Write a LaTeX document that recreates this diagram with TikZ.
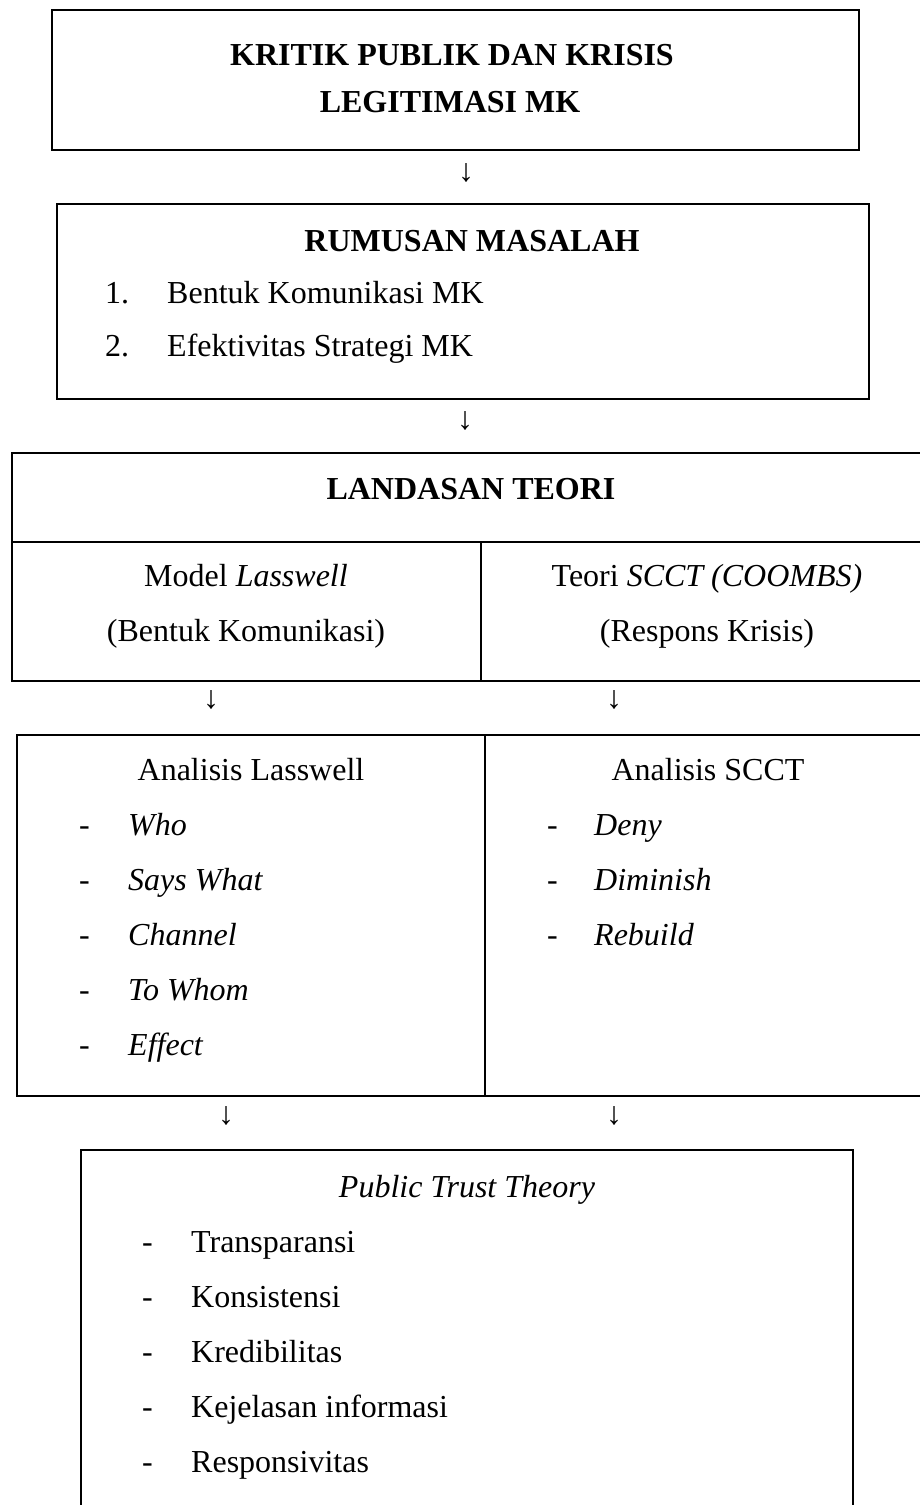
\documentclass[tikz,border=0pt]{standalone}
\usepackage{fontspec}
\setmainfont{Liberation Serif}
\newcommand\fsz{\fontsize{32}{38}\selectfont}
\tikzset{
  boxline/.style={line width=2.8pt, line cap=rect},
  midline/.style={line width=2.6pt},
  ctxt/.style={anchor=base, inner sep=0pt, font=\fsz},
  btxt/.style={anchor=base, inner sep=0pt, font=\fsz\bfseries},
  ltxt/.style={anchor=base west, inner sep=0pt, font=\fsz},
  itxt/.style={anchor=base west, inner sep=0pt, font=\fsz\itshape},
  arrowglyph/.style={anchor=center, inner sep=0pt, font=\fsz},
}
\begin{document}
\begin{tikzpicture}[x=1pt,y=-1pt]
\useasboundingbox (0,0) rectangle (920,1505);
\clip (0,0) rectangle (920,1505);
\fill[white] (0,0) rectangle (920,1505);

% Box 1
\draw[boxline] (52,10) rectangle (859,150);
\node[btxt] (k1) at (452,65) {KRITIK PUBLIK DAN KRISIS};
\node[btxt] (k2) at (450,112) {LEGITIMASI MK};
\node[arrowglyph] (a1) at (466,173) {↓};

% Box 2
\draw[boxline] (57,204) rectangle (869,399);
\node[btxt] (r0) at (472,251) {RUMUSAN MASALAH};
\node[ltxt] (r1n) at (105,303) {1.};
\node[ltxt] (r1) at (167,303) {Bentuk Komunikasi MK};
\node[ltxt] (r2n) at (105,356) {2.};
\node[ltxt] (r2) at (167,356) {Efektivitas Strategi MK};
\node[arrowglyph] (a2) at (465,421) {↓};

% Box 3
\draw[boxline] (12,453) rectangle (933,681);
\draw[midline] (12,542) -- (933,542);
\draw[midline] (481,542) -- (481,681);
\node[btxt] (l0) at (471,499) {LANDASAN TEORI};
\node[ctxt] (l1a) at (246,586) {Model \textit{Lasswell}};
\node[ctxt] (l1b) at (246,641) {(Bentuk Komunikasi)};
\node[ctxt] (l2a) at (707,586) {Teori \textit{SCCT (COOMBS)}};
\node[ctxt] (l2b) at (707,641) {(Respons Krisis)};
\node[arrowglyph] (a3) at (211,700) {↓};
\node[arrowglyph] (a4) at (614,700) {↓};

% Box 4
\draw[boxline] (17,735) rectangle (931,1096);
\draw[midline] (485,735) -- (485,1096);
\node[ctxt] (la0) at (251,780) {Analisis Lasswell};
\node[ltxt] (lad1) at (79,835) {-};
\node[itxt] (la1) at (128,835) {Who};
\node[ltxt] (lad2) at (79,890) {-};
\node[itxt] (la2) at (128,890) {Says What};
\node[ltxt] (lad3) at (79,945) {-};
\node[itxt] (la3) at (128,945) {Channel};
\node[ltxt] (lad4) at (79,1000) {-};
\node[itxt] (la4) at (128,1000) {To Whom};
\node[ltxt] (lad5) at (79,1055) {-};
\node[itxt] (la5) at (128,1055) {Effect};
\node[ctxt] (sc0) at (708,780) {Analisis SCCT};
\node[ltxt] (scd1) at (547,835) {-};
\node[itxt] (sc1) at (594,835) {Deny};
\node[ltxt] (scd2) at (547,890) {-};
\node[itxt] (sc2) at (594,890) {Diminish};
\node[ltxt] (scd3) at (547,945) {-};
\node[itxt] (sc3) at (594,945) {Rebuild};
\node[arrowglyph] (a5) at (226,1116) {↓};
\node[arrowglyph] (a6) at (614,1116) {↓};

% Box 5 (open at bottom)
\draw[boxline] (81,1515) -- (81,1150) -- (853,1150) -- (853,1515);
\node[ctxt,font=\fsz\itshape] (p0) at (467,1197) {Public Trust Theory};
\node[ltxt] (pd1) at (142,1252) {-};
\node[ltxt] (p1) at (191,1252) {Transparansi};
\node[ltxt] (pd2) at (142,1307) {-};
\node[ltxt] (p2) at (191,1307) {Konsistensi};
\node[ltxt] (pd3) at (142,1362) {-};
\node[ltxt] (p3) at (191,1362) {Kredibilitas};
\node[ltxt] (pd4) at (142,1417) {-};
\node[ltxt] (p4) at (191,1417) {Kejelasan informasi};
\node[ltxt] (pd5) at (142,1472) {-};
\node[ltxt] (p5) at (191,1472) {Responsivitas};
\end{tikzpicture}
\end{document}
